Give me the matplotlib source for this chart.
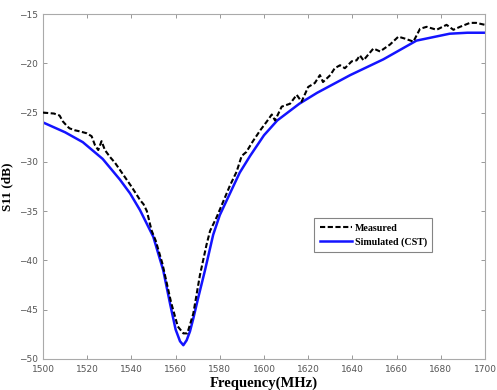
import matplotlib
matplotlib.use("Agg")
import matplotlib.pyplot as plt

# Simulated (CST) S11
sim_freq = [1500, 1510, 1518, 1527, 1534.8, 1539.4, 1543.9, 1549.9, 1554.4, 1557.5,
            1560, 1562, 1563.5, 1565, 1566.5, 1568, 1570, 1573.3, 1577, 1580, 1584.6,
            1589, 1593.7, 1600, 1606, 1616, 1624, 1639, 1654, 1669, 1684, 1692, 1700]
sim_s11 = [-26.0, -27.0, -28.0, -29.7, -31.8, -33.2, -34.9, -37.6, -41.0, -44.4,
           -47.0, -48.2, -48.6, -48.1, -47.2, -45.9, -44.0, -41.0, -37.4, -35.4, -33.2,
           -31.1, -29.4, -27.3, -25.8, -24.1, -23.0, -21.2, -19.6, -17.7, -17.0, -16.9, -16.9]

# Measured S11
meas_freq = [1500, 1505, 1507.5, 1509, 1511, 1512, 1514.5, 1516.5, 1519.8, 1522, 1523.5,
             1525, 1526.5, 1528, 1530.3, 1532.6, 1536.3, 1540, 1544, 1545.5, 1547,
             1548.4, 1549.2, 1551, 1554, 1558, 1561, 1563.5, 1565.3, 1568, 1571,
             1574, 1575.6, 1578.6, 1581.6, 1584.6, 1587.6, 1589.9, 1592, 1595, 1598.3,
             1601.3, 1603.5, 1605, 1608, 1611.8, 1614.8, 1617, 1620, 1623, 1625.3,
             1626.7, 1630, 1632, 1634.4, 1636.6, 1639.7, 1641.9, 1643.4, 1645, 1649.5,
             1652.5, 1657, 1660.8, 1663.8, 1667.6, 1670.6, 1673.6, 1678.1, 1682.6,
             1685.7, 1688.7, 1693.2, 1696, 1700]
meas_s11 = [-25.0, -25.1, -25.3, -25.9, -26.4, -26.6, -26.8, -26.9, -27.1, -27.4, -28.3,
            -28.8, -27.9, -28.8, -29.5, -30.1, -31.3, -32.5, -33.9, -34.3, -35.0,
            -36.3, -37.0, -38.0, -40.3, -44.3, -46.7, -47.4, -47.4, -45.4, -41.5,
            -38.4, -37.0, -35.6, -34.0, -32.4, -31.0, -29.4, -29.0, -27.9, -26.8,
            -25.9, -25.2, -25.8, -24.4, -24.1, -23.2, -23.9, -22.4, -22.0, -21.2,
            -21.9, -21.2, -20.5, -20.2, -20.5, -19.8, -19.7, -19.2, -19.7, -18.5,
            -18.8, -18.1, -17.3, -17.5, -17.8, -16.5, -16.3, -16.6, -16.1,
            -16.6, -16.3, -15.9, -15.9, -16.1]

xticks = list(range(1500, 1701, 20))
yticks = list(range(-50, -14, 5))

fig = plt.figure(figsize=(4.97, 3.9), dpi=100)
ax = fig.add_axes([43 / 497, 1 - 359 / 390, 442 / 497, 345 / 390])

ax.plot(meas_freq, meas_s11, color="black", linestyle="--", dashes=(2.5, 1.2),
        linewidth=1.5, label="Measured", zorder=3)
ax.plot(sim_freq, sim_s11, color="#1414ff", linewidth=1.8,
        label="Simulated (CST)", zorder=2)

ax.set_xlim(1500, 1700)
ax.set_ylim(-50, -15)
ax.set_xticks(xticks)
ax.set_yticks(yticks)
ax.tick_params(direction="in", top=True, right=True, length=3, width=0.6,
               colors="#888888", labelcolor="#555555", labelsize=6.5)
ax.tick_params(axis="x", pad=4)
for sp in ax.spines.values():
    sp.set_color("#aaaaaa")
    sp.set_linewidth(0.8)

ax.set_xlabel("Frequency(MHz)", fontfamily="Liberation Serif", fontweight="bold",
              fontsize=10.5, labelpad=2)
ax.set_ylabel("S11 (dB)", fontfamily="Liberation Serif", fontweight="bold",
              fontsize=9.5, labelpad=4)

leg = ax.legend(loc="upper left", bbox_to_anchor=(0.602, 0.423), fancybox=False,
                prop={"family": "Liberation Serif", "weight": "bold", "size": 7.2},
                handlelength=3.2, borderpad=0.55, labelspacing=0.45, handletextpad=0.3)
leg.get_frame().set_edgecolor("#666666")
leg.get_frame().set_linewidth(0.8)

fig.savefig("out.png", dpi=100)
